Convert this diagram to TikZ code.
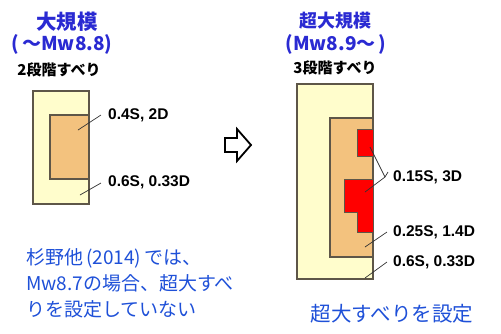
\documentclass[tikz,border=0pt]{standalone}
\usepackage{fontspec}
\setmainfont{Liberation Sans}
\newfontfamily\jp{Noto Sans CJK JP}
\definecolor{lyellow}{HTML}{FFFDCC}
\definecolor{lorange}{HTML}{F3C27E}
\definecolor{edge}{HTML}{5E5648}
\definecolor{tblue}{HTML}{2A2AD2}
\definecolor{bblue}{HTML}{1E50D8}
\tikzset{
  zone/.style={draw=edge, line width=1.2pt},
  lbl/.style={anchor=west, font=\bfseries\fontsize{15.5}{17}\selectfont, inner sep=0pt},
  lead/.style={draw=black!80, line width=0.7pt},
  ttl/.style={text=tblue, font=\jp\bfseries\fontsize{19}{21}\selectfont, inner sep=0pt},
  sub/.style={font=\jp\bfseries\fontsize{15}{17}\selectfont, inner sep=0pt},
  note/.style={text=bblue, font=\jp\fontsize{19}{26}\selectfont, inner sep=0pt, anchor=north west, align=left}
}
\begin{document}
\begin{tikzpicture}[x=1pt, y=-1pt]
\useasboundingbox (0,0) rectangle (501,333);
% Left diagram
\node[ttl, font=\jp\bfseries\fontsize{20.5}{22}\selectfont] (t1) at (67,22) {大規模};
\node[ttl] (t1b) at (62,44) {(\,～Mw8.8)};
\node[sub] (s1) at (59,70) {2段階すべり};
\filldraw[zone, fill=lyellow] (33,91) rectangle (89,204);
\filldraw[zone, fill=lorange] (50,115) rectangle (89,179);
\coordinate (la1) at (78,130);
\coordinate (la2) at (80,195);
\node[lbl] (l1) at (108,115) {0.4S, 2D};
\node[lbl] (l2) at (108,182) {0.6S, 0.33D};
\draw[lead] (la1) -- ([xshift=-7pt]l1.west);
\draw[lead] (la2) -- ([xshift=-7pt,yshift=-1pt]l2.west);
% Arrow
\draw[line width=1.8pt, fill=white, line join=miter]
  (225,138) -- (237,138) -- (237,129) -- (251,145) -- (237,161) -- (237,152) -- (225,152) -- cycle;
% Right diagram
\node[ttl, font=\jp\bfseries\fontsize{18}{20}\selectfont] (t2) at (335,21) {超大規模};
\node[ttl] (t2b) at (336,44) {(Mw8.9～\,)};
\node[sub] (s2) at (335,68) {3段階すべり};
\filldraw[zone, fill=lyellow] (297,84) rectangle (373,279);
\filldraw[zone, fill=lorange] (330,118) rectangle (373,257);
\filldraw[draw=edge, line width=0.8pt, fill=red] (357,129) rectangle (373,156);
\filldraw[draw=edge, line width=0.8pt, fill=red] (344,179) -- (373,179) -- (373,232) -- (357,232) -- (357,212) -- (344,212) -- cycle;
\node[lbl] (r1) at (393,177) {0.15S, 3D};
\node[lbl] (r2) at (393,232) {0.25S, 1.4D};
\node[lbl] (r3) at (393,262) {0.6S, 0.33D};
\coordinate (j) at (385,177);
\coordinate (ra) at (370,147);
\coordinate (rb) at (365,192);
\coordinate (rc) at (365,247);
\coordinate (rd) at (365,278);
\draw[lead] (ra) -- (j) -- (rb);
\draw[lead] (j) -- (388,172);
\draw[lead] (rc) -- ([xshift=-6pt]r2.west);
\draw[lead] (rd) -- ([xshift=-6pt]r3.west);
% Notes
\node[note] (n1) at (26,248) {杉野他\,(2014)\,では、\\Mw8.7の場合、超大すべ\\りを設定していない};
\node[note, anchor=center, font=\jp\fontsize{20.5}{24}\selectfont] (n2) at (392,314) {超大すべりを設定};
\end{tikzpicture}
\end{document}
